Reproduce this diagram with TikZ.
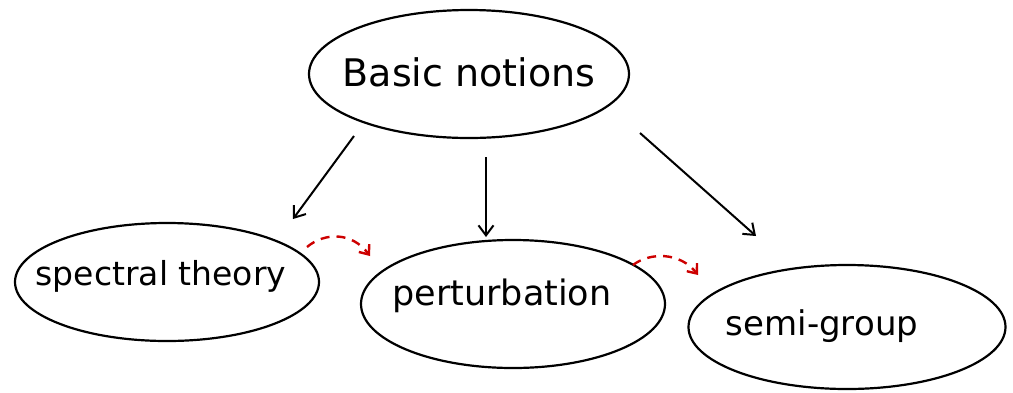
\documentclass[tikz,border=0pt]{standalone}
\usepackage{fontspec}
\setmainfont{DejaVu Sans}
\usetikzlibrary{shapes.geometric,arrows.meta}
\begin{document}
\begin{tikzpicture}[x=1pt,y=-1pt,
  oval/.style={draw,ellipse,line width=2.2pt,inner sep=0pt},
  lbl/.style={inner sep=0pt,font=\fontsize{34}{38}\selectfont},
  arr/.style={line width=2pt,-{Straight Barb[length=10pt,width=15pt,line width=2pt]}},
  redarr/.style={line width=2.4pt,color={rgb,255:red,205;green,0;blue,0},dash pattern=on 9pt off 7pt,-{Straight Barb[length=8pt,width=13pt,line width=2.4pt]}}]
\useasboundingbox (0,0) rectangle (1013,392);
\node[oval,minimum width=320pt,minimum height=128pt] (basic) at (469,74) {};
\node[oval,minimum width=304pt,minimum height=118pt] (spec) at (167,282) {};
\node[oval,minimum width=304pt,minimum height=128pt] (pert) at (513,304) {};
\node[oval,minimum width=317pt,minimum height=124pt] (semi) at (847,327) {};
\node[lbl,font=\fontsize{38}{42}\selectfont] (tb) at (469,72) {Basic notions};
\node[lbl,font=\fontsize{33}{37}\selectfont] (ts) at (161,276) {spectral theory};
\node[lbl,font=\fontsize{35}{39}\selectfont] (tp) at (502,296) {perturbation};
\node[lbl,font=\fontsize{34}{38}\selectfont] (tg) at (822,326) {semi-group};
\coordinate (a1s) at (354,136); \coordinate (a1e) at (293,219);
\coordinate (a2s) at (486,157); \coordinate (a2e) at (486,237);
\coordinate (a3s) at (640,133); \coordinate (a3e) at (756,236);
\coordinate (r1s) at (307,247); \coordinate (r1e) at (370,256);
\coordinate (r2s) at (633,265); \coordinate (r2e) at (698,275);
\draw[arr] (a1s) -- (a1e);
\draw[arr] (a2s) -- (a2e);
\draw[arr] (a3s) -- (a3e);
\draw[redarr] (r1s) .. controls (325,232) and (352,232) .. (r1e);
\draw[redarr] (r2s) .. controls (650,252) and (680,252) .. (r2e);
\end{tikzpicture}
\end{document}
